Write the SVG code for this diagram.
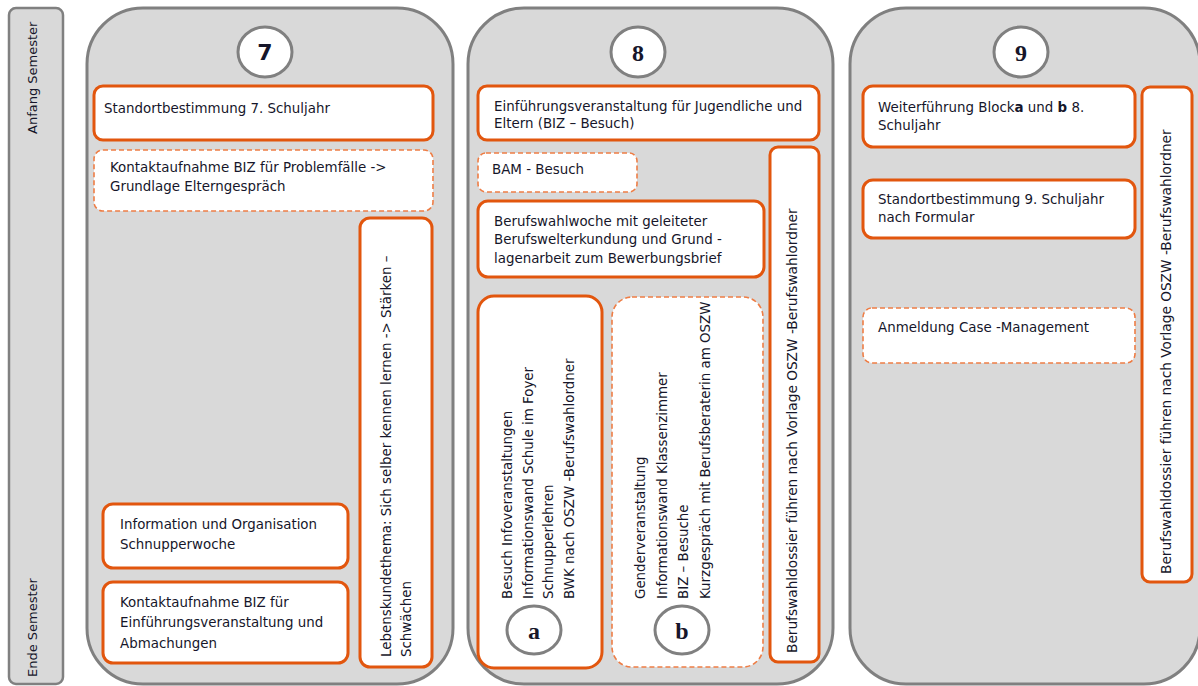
<svg xmlns="http://www.w3.org/2000/svg" width="1198" height="686" viewBox="0 0 1198 686">
<style>
.col{fill:#d9d9d9;stroke:#808080;stroke-width:3}
.bar{fill:#d9d9d9;stroke:#808080;stroke-width:2.5}
.box{fill:#fff;stroke:#e2560e;stroke-width:3}
.dbox{fill:#fff;stroke:#ee7d45;stroke-width:1.6;stroke-dasharray:5 3}
.circ{fill:#fff;stroke:#808080;stroke-width:3}
text{font-family:"DejaVu Sans","Liberation Sans",sans-serif;font-size:13.4px;fill:#16162a}
.num{font-family:"Liberation Serif",serif;font-weight:bold;font-size:24px;text-anchor:middle}
.num7{font-family:"DejaVu Sans",sans-serif;font-weight:bold;font-size:22px;text-anchor:middle}
.side{font-size:13px}
.tall{font-size:13.7px}
</style>
<g id="semester-bar">
<rect class="bar" x="9" y="8" width="54" height="676" rx="7"/>
<text class="side" transform="translate(37,134) rotate(-90)">Anfang Semester</text>
<text class="side" transform="translate(37,677) rotate(-90)">Ende Semester</text>
</g>
<g id="col7">
<rect class="col" x="87" y="8" width="366" height="676" rx="56"/>
</g>
<g id="col8">
<rect class="col" x="468" y="8" width="365" height="676" rx="56"/>
</g>
<g id="col9">
<rect class="col" x="850" y="8" width="350" height="676" rx="56"/>
</g>
<g id="n7">
<ellipse class="circ" cx="265" cy="52" rx="27" ry="25"/>
<text class="num7" x="265" y="60">7</text>
</g>
<g id="n8">
<ellipse class="circ" cx="638" cy="52" rx="27" ry="25"/>
<text class="num" x="638" y="61">8</text>
</g>
<g id="n9">
<ellipse class="circ" cx="1021" cy="52" rx="27" ry="25"/>
<text class="num" x="1021" y="61">9</text>
</g>
<g id="standort7">
<rect class="box" x="94" y="86" width="339" height="54" rx="9"/>
<text x="104" y="113">Standortbestimmung 7. Schuljahr</text>
</g>
<g id="kontakt-problem">
<rect class="dbox" x="94" y="150" width="339" height="61" rx="9"/>
<text x="110" y="172">Kontaktaufnahme BIZ für Problemfälle -&gt;</text>
<text x="110" y="191">Grundlage Elterngespräch</text>
</g>
<g id="lebenskunde">
<rect class="box" x="360" y="218" width="72" height="449" rx="10"/>
<text transform="translate(391,657) rotate(-90)">Lebenskundethema: Sich selber kennen lernen -&gt; Stärken –</text>
<text transform="translate(411,657) rotate(-90)">Schwächen</text>
</g>
<g id="info-schnupper">
<rect class="box" x="103" y="504" width="245" height="64" rx="10"/>
<text x="120" y="529">Information und Organisation</text>
<text x="120" y="549">Schnupperwoche</text>
</g>
<g id="kontakt-einf">
<rect class="box" x="103" y="582" width="245" height="81" rx="10"/>
<text x="120" y="607">Kontaktaufnahme BIZ für</text>
<text x="120" y="627">Einführungsveranstaltung und</text>
<text x="120" y="648">Abmachungen</text>
</g>
<g id="einf8">
<rect class="box" x="478" y="86" width="341" height="54" rx="9"/>
<text x="494" y="111">Einführungsveranstaltung für Jugendliche und</text>
<text x="494" y="128">Eltern (BIZ – Besuch)</text>
</g>
<g id="bam">
<rect class="dbox" x="478" y="153" width="159" height="39" rx="8"/>
<text x="492" y="174">BAM - Besuch</text>
</g>
<g id="berufswahlwoche">
<rect class="box" x="478" y="201" width="286" height="76" rx="10"/>
<text x="494" y="226">Berufswahlwoche mit geleiteter</text>
<text x="494" y="244">Berufswelterkundung und Grund -</text>
<text x="494" y="263">lagenarbeit zum Bewerbungsbrief</text>
</g>
<g id="dossier8">
<rect class="box" x="770" y="147" width="49" height="515" rx="8"/>
<text class="tall" transform="translate(797,653) rotate(-90)">Berufswahldossier führen nach Vorlage OSZW -Berufswahlordner</text>
</g>
<g id="block-a">
<rect class="box" x="478" y="296" width="124" height="372" rx="16"/>
<text transform="translate(512,599) rotate(-90)">Besuch Infoveranstaltungen</text>
<text transform="translate(533,599) rotate(-90)">Informationswand  Schule im Foyer</text>
<text transform="translate(553,599) rotate(-90)">Schnupperlehren</text>
<text transform="translate(574,599) rotate(-90)">BWK nach OSZW -Berufswahlordner</text>
<ellipse class="circ" cx="534" cy="630" rx="27" ry="24"/>
<text class="num" x="534" y="639">a</text>
</g>
<g id="block-b">
<rect class="dbox" x="612" y="297" width="151" height="370" rx="20"/>
<text transform="translate(645,599) rotate(-90)">Genderveranstaltung</text>
<text transform="translate(667,599) rotate(-90)">Informationswand Klassenzimmer</text>
<text transform="translate(688,599) rotate(-90)">BIZ – Besuche</text>
<text transform="translate(710,599) rotate(-90)">Kurzgespräch mit Berufsberaterin am OSZW</text>
<ellipse class="circ" cx="682" cy="630" rx="27" ry="24"/>
<text class="num" x="682" y="639">b</text>
</g>
<g id="weiterfuehrung">
<rect class="box" x="863" y="86" width="272" height="61" rx="10"/>
<text x="878" y="112">Weiterführung Block<tspan font-weight="bold">a</tspan> und <tspan font-weight="bold">b</tspan> 8.</text>
<text x="878" y="130">Schuljahr</text>
</g>
<g id="standort9">
<rect class="box" x="863" y="180" width="272" height="58" rx="10"/>
<text x="878" y="204">Standortbestimmung 9. Schuljahr</text>
<text x="878" y="222">nach Formular</text>
</g>
<g id="case">
<rect class="dbox" x="863" y="308" width="272" height="55" rx="9"/>
<text x="878" y="332">Anmeldung Case -Management</text>
</g>
<g id="dossier9">
<rect class="box" x="1142" y="87" width="50" height="495" rx="8"/>
<text class="tall" transform="translate(1171,574) rotate(-90)">Berufswahldossier führen nach Vorlage OSZW -Berufswahlordner</text>
</g>
<g id="connectors"></g>
</svg>
